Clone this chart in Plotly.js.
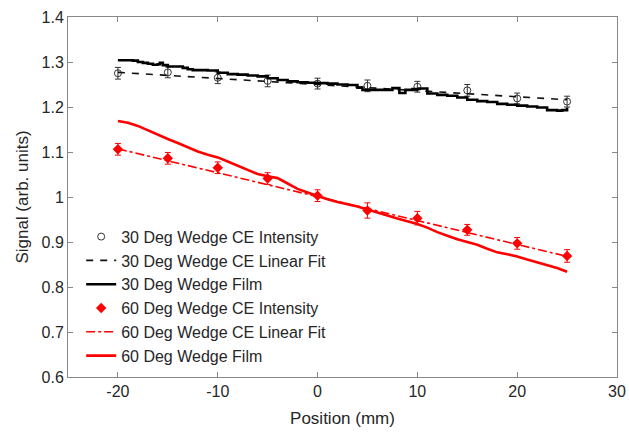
<!DOCTYPE html>
<html>
<head>
<meta charset="utf-8">
<script src="https://cdn.plot.ly/plotly-3.0.1.min.js"></script>
<style>html,body{margin:0;padding:0;background:#fff;}#chart{width:629px;height:433px;}</style>
</head>
<body>
<div id="chart"></div>
<script>
// Measurement positions (mm)
const positions = [-20, -15, -10, -5, 0, 5, 10, 15, 20, 25];

// 30 degree wedge CE intensity
const ce30 = [1.275, 1.277, 1.265, 1.258, 1.252, 1.247, 1.245, 1.237, 1.219, 1.212];
const ce30Err = [0.013, 0.012, 0.013, 0.013, 0.012, 0.013, 0.012, 0.013, 0.012, 0.012];
// 30 degree linear fit endpoints
const fit30X = [-20, 25];
const fit30Y = [1.277, 1.216];

// 60 degree wedge CE intensity
const ce60 = [1.106, 1.086, 1.065, 1.041, 1.003, 0.970, 0.953, 0.927, 0.897, 0.869];
const ce60Err = [0.013, 0.013, 0.013, 0.013, 0.013, 0.017, 0.015, 0.012, 0.013, 0.014];
const fit60X = [-20, 25];
const fit60Y = [1.107, 0.868];

// 30 degree wedge film profile
const film30X = [-20, -19, -18.5, -18, -17.5, -17, -16.5, -16, -15.8, -15.5, -15, -14, -13.5, -13, -12.5, -11, -10, -9, -8, -7, -6, -5, -4, -3, -2, -1, 0, 1, 2, 3, 4, 4.5, 5.5, 6.5, 7.5, 8.2, 8.8, 9.5, 10.2, 11, 12, 13, 14, 15, 16, 17, 18, 19, 20, 21, 22, 23, 24, 24.5, 25];
const film30Y = [1.304, 1.304, 1.303, 1.300, 1.298, 1.296, 1.294, 1.295, 1.298, 1.293, 1.290, 1.290, 1.287, 1.284, 1.282, 1.281, 1.276, 1.273, 1.272, 1.270, 1.268, 1.264, 1.260, 1.257, 1.255, 1.254, 1.253, 1.252, 1.250, 1.249, 1.243, 1.238, 1.238, 1.238, 1.242, 1.231, 1.238, 1.240, 1.241, 1.230, 1.227, 1.225, 1.221, 1.216, 1.213, 1.211, 1.207, 1.205, 1.203, 1.201, 1.199, 1.193, 1.192, 1.193, 1.199];

// 60 degree wedge film profile
const film60X = [-20, -19, -18, -17, -16, -15, -14, -13, -12, -11, -10, -9, -8, -7, -6, -5, -4, -3, -2, -1, 0, 1, 2, 3, 4, 5, 6, 7, 8, 9, 10, 11, 12, 13, 14, 15, 16, 17, 18, 19, 20, 21, 22, 23, 24, 25];
const film60Y = [1.169, 1.165, 1.158, 1.148, 1.138, 1.129, 1.120, 1.110, 1.101, 1.094, 1.088, 1.079, 1.070, 1.060, 1.051, 1.046, 1.042, 1.030, 1.018, 1.010, 1.002, 0.995, 0.989, 0.984, 0.979, 0.972, 0.966, 0.959, 0.952, 0.946, 0.940, 0.932, 0.922, 0.914, 0.906, 0.900, 0.894, 0.885, 0.877, 0.873, 0.868, 0.861, 0.855, 0.849, 0.842, 0.834];

const xTicks = [-20, -10, 0, 10, 20, 30];
const xTickText = ['-20', '-10', '0', '10', '20', '30'];
const yTicks = [0.6, 0.7, 0.8, 0.9, 1, 1.1, 1.2, 1.3, 1.4];
const yTickText = ['0.6', '0.7', '0.8', '0.9', '1', '1.1', '1.2', '1.3', '1.4'];

const names = [
  '30 Deg Wedge CE Intensity',
  '30 Deg Wedge CE Linear Fit',
  '30 Deg Wedge Film',
  '60 Deg Wedge CE Intensity',
  '60 Deg Wedge CE Linear Fit',
  '60 Deg Wedge Film'
];

const FONT = 'Liberation Sans, Arial, sans-serif';

const traces = [
  {x: positions, y: ce30, name: names[0], type: 'scatter', mode: 'markers',
   marker: {symbol: 'circle-open', size: 7, color: '#333', line: {width: 1, color: '#333'}},
   error_y: {type: 'data', array: ce30Err, visible: true, color: '#333', thickness: 1, width: 3}},
  {x: fit30X, y: fit30Y, name: names[1], type: 'scatter', mode: 'lines',
   line: {color: '#111', width: 1.6, dash: '7px,7px'}},
  {x: film30X, y: film30Y, name: names[2], type: 'scatter', mode: 'lines',
   line: {color: '#000', width: 2.6, shape: 'hv'}},
  {x: positions, y: ce60, name: names[3], type: 'scatter', mode: 'markers',
   marker: {symbol: 'diamond', size: 8, color: '#ff0000'},
   error_y: {type: 'data', array: ce60Err, visible: true, color: '#ff0000', thickness: 1, width: 3}},
  {x: fit60X, y: fit60Y, name: names[4], type: 'scatter', mode: 'lines',
   line: {color: '#ff0000', width: 1.6, dash: 'dashdot'}},
  {x: film60X, y: film60Y, name: names[5], type: 'scatter', mode: 'lines',
   line: {color: '#ff0000', width: 2.6}}
];

const axisCommon = {
  showgrid: false, zeroline: false, showline: true, mirror: 'ticks',
  linecolor: '#888', linewidth: 1, ticks: 'inside', ticklen: 5, tickcolor: '#888',
  tickfont: {family: FONT, size: 16, color: '#262626'}
};

const layout = {
  width: 629, height: 433,
  margin: {l: 68, r: 12, t: 17, b: 56},
  paper_bgcolor: '#fff', plot_bgcolor: '#fff',
  showlegend: true,
  legend: {x: 0.024, y: 0.437, xanchor: 'left', yanchor: 'top', bgcolor: 'rgba(0,0,0,0)',
           font: {family: FONT, size: 16, color: '#262626'},
           tracegroupgap: 0, itemwidth: 30},
  xaxis: Object.assign({}, axisCommon, {range: [-25, 30], tickvals: xTicks, ticktext: xTickText,
           title: {text: 'Position (mm)', font: {family: FONT, size: 17, color: '#262626'}, standoff: 12}}),
  yaxis: Object.assign({}, axisCommon, {range: [0.6, 1.4], tickvals: yTicks, ticktext: yTickText,
           title: {text: 'Signal (arb. units)', font: {family: FONT, size: 17, color: '#262626'}, standoff: 8}})
};

Plotly.newPlot('chart', traces, layout, {displayModeBar: false, staticPlot: true});
</script>
</body>
</html>
